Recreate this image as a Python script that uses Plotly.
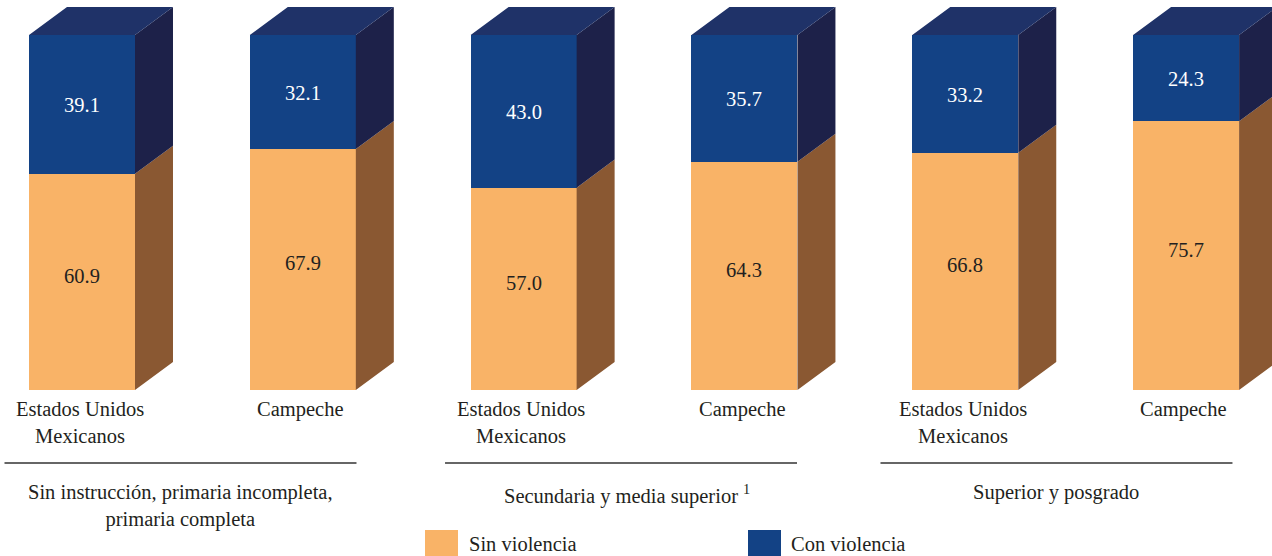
import plotly.graph_objects as go

# ---- data ----
categories = ["Estados Unidos<br>Mexicanos", "Campeche",
              "Estados Unidos<br>Mexicanos", "Campeche",
              "Estados Unidos<br>Mexicanos", "Campeche"]
groups = ["Sin instrucción, primaria incompleta,<br>primaria completa",
          "Secundaria y media superior <sup>1</sup>",
          "Superior y posgrado"]
sin_violencia = [60.9, 67.9, 57.0, 64.3, 66.8, 75.7]
con_violencia = [39.1, 32.1, 43.0, 35.7, 33.2, 24.3]
series_names = ["Sin violencia", "Con violencia"]

# ---- styling ----
FONT = "Liberation Serif"
TXT = "#231F20"
ORANGE, ORANGE_SIDE = "#F9B367", "#8A5832"
BLUE, BLUE_SIDE, BLUE_TOP = "#134285", "#1D2149", "#1F3268"
W, H = 1272, 556
BAR_W = 0.48
DX, DY = 0.172, 7.9          # depth offset in axis units
X_RANGE = [-0.3714, 5.389]
Y_RANGE = [-46.76, 109.86]
GROUP_SHIFT = [-0.054, -0.059, -0.087]
GROUP_LABEL_XSHIFT = [0, 6, 0]

def py_to_paper(py):
    return 1 - py / H

x = list(range(len(categories)))
fig = go.Figure()

fig.add_trace(go.Bar(x=x, y=sin_violencia, name=series_names[0], width=BAR_W,
                     marker=dict(color=ORANGE, line=dict(width=0)), showlegend=False,
                     hoverinfo="y+name"))
fig.add_trace(go.Bar(x=x, y=con_violencia, name=series_names[1], width=BAR_W,
                     marker=dict(color=BLUE, line=dict(width=0)), showlegend=False,
                     hoverinfo="y+name"))

# 3D side / top faces derived from data
def side_poly(xc, y0, y1):
    xr = xc + BAR_W / 2
    return [xr, xr + DX, xr + DX, xr, xr, None], [y0, y0 + DY, y1 + DY, y1, y0, None]

def top_poly(xc, yt):
    xl, xr = xc - BAR_W / 2, xc + BAR_W / 2
    return [xl, xl + DX, xr + DX, xr, xl, None], [yt, yt + DY, yt + DY, yt, yt, None]

ox, oy, bx, by, tx, ty = [], [], [], [], [], []
for xi, s, c in zip(x, sin_violencia, con_violencia):
    a, b = side_poly(xi, 0, s); ox += a; oy += b
    a, b = side_poly(xi, s, s + c); bx += a; by += b
    a, b = top_poly(xi, s + c); tx += a; ty += b

for px_, py_, col in [(ox, oy, ORANGE_SIDE), (bx, by, BLUE_SIDE), (tx, ty, BLUE_TOP)]:
    fig.add_trace(go.Scatter(x=px_, y=py_, mode="lines", fill="toself", fillcolor=col,
                             line=dict(width=0, color=col), hoverinfo="skip", showlegend=False))

annotations = []
shapes = []
# value labels
for xi, s, c in zip(x, sin_violencia, con_violencia):
    annotations.append(dict(x=xi, y=s / 2, xref="x", yref="y", text=f"{s:.1f}",
                            showarrow=False, yshift=6,
                            font=dict(family=FONT, size=20.5, color=TXT)))
    annotations.append(dict(x=xi, y=s + c / 2, xref="x", yref="y", text=f"{c:.1f}",
                            showarrow=False, yshift=-1,
                            font=dict(family=FONT, size=20.5, color="white")))
# category labels
for xi, cat in zip(x, categories):
    annotations.append(dict(x=xi - 0.01, y=py_to_paper(396), xref="x", yref="paper",
                            text=cat, showarrow=False, yanchor="top", xanchor="center",
                            font=dict(family=FONT, size=20.5, color=TXT)))
# group lines and labels
for g, label in enumerate(groups):
    gc = 2 * g + 0.5 + GROUP_SHIFT[g]
    shapes.append(dict(type="line", xref="x", yref="paper", x0=gc - 0.797, x1=gc + 0.797,
                       y0=py_to_paper(463), y1=py_to_paper(463),
                       line=dict(color="#333333", width=1.6)))
    annotations.append(dict(x=gc, y=py_to_paper(479), xref="x", yref="paper", text=label,
                            showarrow=False, yanchor="top", xanchor="center",
                            xshift=GROUP_LABEL_XSHIFT[g],
                            font=dict(family=FONT, size=20.5, color=TXT)))

# legend (manual)
for (x0, tx0), name, col in zip([(425, 467), (748, 789)], series_names, [ORANGE, BLUE]):
    shapes.append(dict(type="rect", xref="paper", yref="paper", x0=x0 / W, x1=(x0 + 33) / W,
                       y0=py_to_paper(560), y1=py_to_paper(530), fillcolor=col,
                       line=dict(width=0)))
    annotations.append(dict(x=tx0 / W, y=py_to_paper(544), xref="paper", yref="paper",
                            text=name, showarrow=False, xanchor="left", yanchor="middle",
                            font=dict(family=FONT, size=20.5, color=TXT)))

fig.update_layout(
    barmode="stack", width=W, height=H,
    margin=dict(l=0, r=0, t=0, b=0),
    plot_bgcolor="white", paper_bgcolor="white",
    xaxis=dict(range=X_RANGE, visible=False, fixedrange=True),
    yaxis=dict(range=Y_RANGE, visible=False, fixedrange=True),
    annotations=annotations, shapes=shapes, showlegend=False,
)

fig.write_html("out.html", config={"displayModeBar": False},
               post_script="document.body.style.margin='0';document.body.style.overflow='hidden';")
